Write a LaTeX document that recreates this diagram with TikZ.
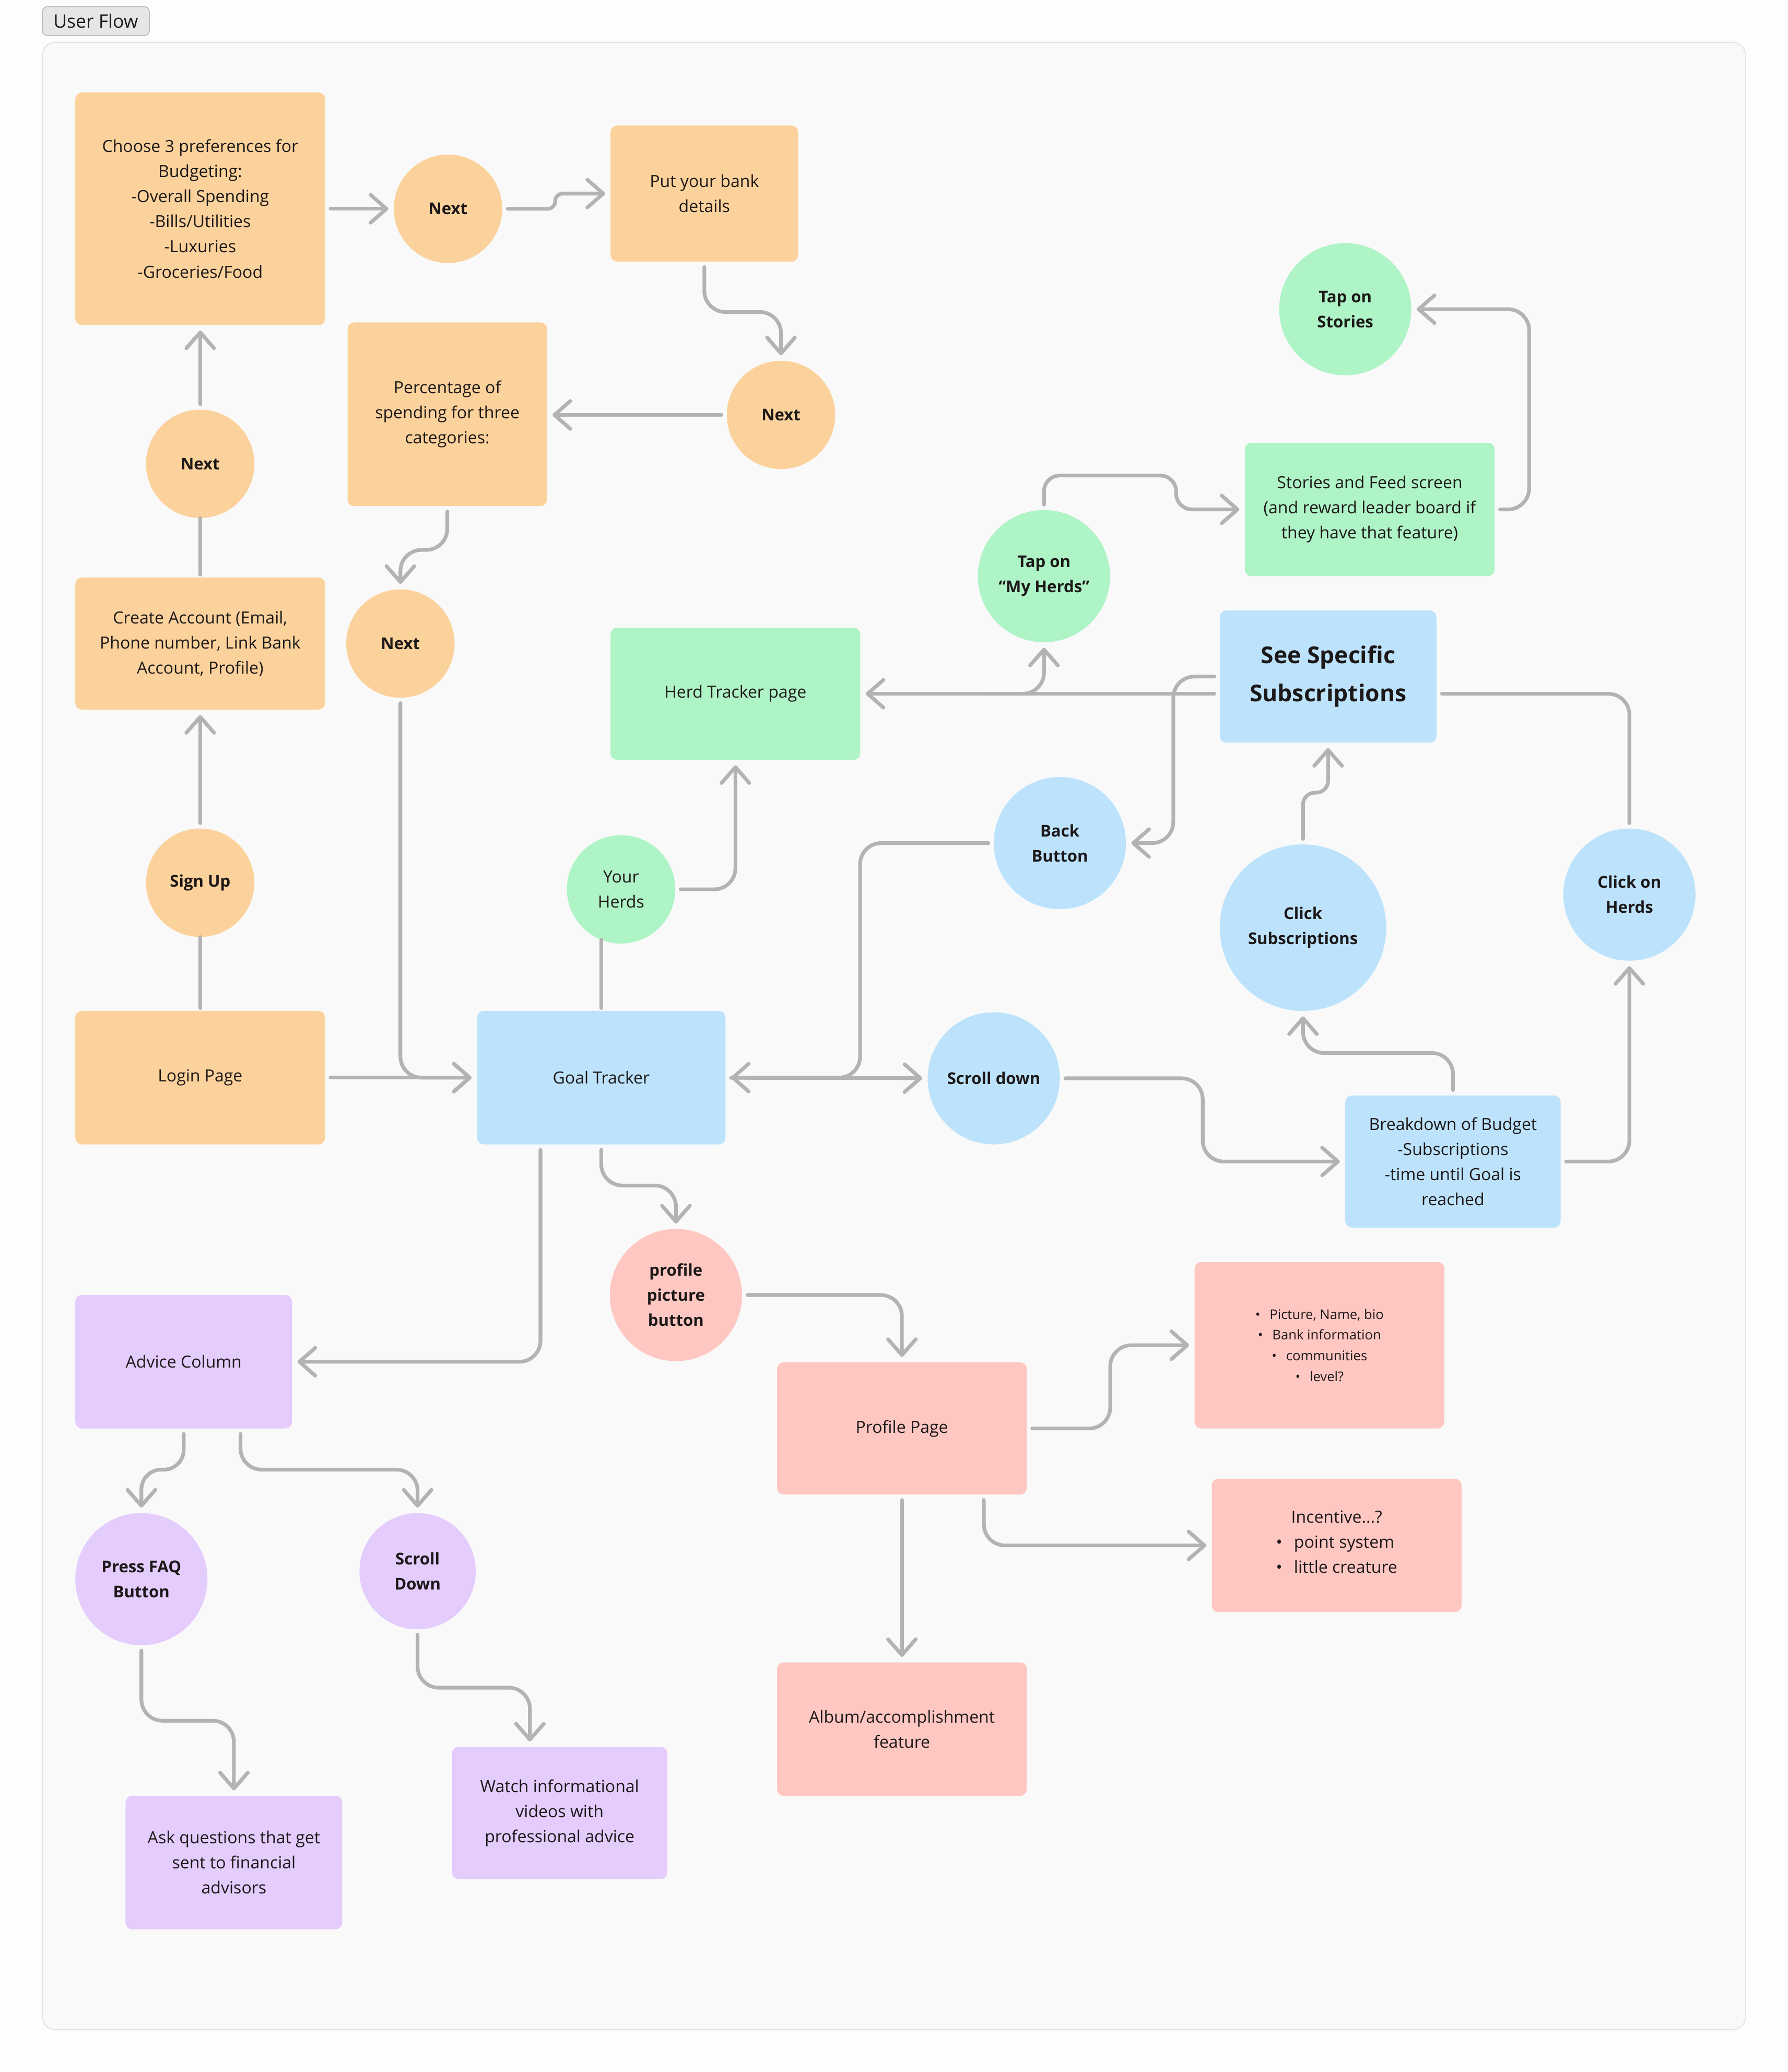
\documentclass[tikz,border=0pt]{standalone}
\usepackage{fontspec}
\setmainfont{Open Sans}
\usetikzlibrary{arrows.meta,calc}
\definecolor{cOr}{HTML}{FCD29C}
\definecolor{cBl}{HTML}{BDE3FC}
\definecolor{cGr}{HTML}{AFF4C6}
\definecolor{cPk}{HTML}{FFC7C2}
\definecolor{cPu}{HTML}{E4CCFC}
\definecolor{cLn}{HTML}{B3B3B3}
\definecolor{cTx}{HTML}{1C1818}
\definecolor{cPanel}{HTML}{F9F9F9}
\definecolor{cPanelB}{HTML}{E4E4E4}
\definecolor{cOuter}{HTML}{FDFDFD}
\definecolor{cTag}{HTML}{E6E6E6}
\definecolor{cTagB}{HTML}{BDBDBD}
\newcommand\myfr{\fontsize{18}{27}\selectfont}
\newcommand\myfb{\fontsize{17.5}{27}\selectfont\bfseries}
\newcommand\myfbig{\fontsize{25}{41}\selectfont\bfseries}
\newcommand\myfsm{\fontsize{14.4}{22.3}\selectfont}
\begin{document}
\begin{tikzpicture}[x=0.5mm,y=-0.5mm,
  box/.style={rectangle, rounded corners=2.5mm, draw=none, align=center, text=cTx, font=\myfr, inner sep=0pt},
  circ/.style={circle, draw=none, align=center, text=cTx, font=\myfb, inner sep=0pt},
  conn/.style={draw=cLn, line width=1.4mm, line cap=round, line join=round, rounded corners=8mm, shorten <=2mm, shorten >=2mm},
  arr/.style={conn, -{Straight Barb[length=6mm,width=10.5mm,round]}},
  tag/.style={rectangle, rounded corners=2mm, fill=cTag, draw=cTagB, line width=0.35mm, text=cTx, font=\fontsize{20}{24}\selectfont, minimum width=40.5mm, minimum height=11mm, inner sep=0pt}
]
\useasboundingbox (0,0) rectangle (1353,1568);
\fill[cOuter] (0,0) rectangle (1353,1568);
\draw[fill=cPanel, draw=cPanelB, line width=0.4mm, rounded corners=5mm] (32,32) rectangle (1321,1536);
\node[tag] (title) at (72.5,16) {User Flow};

% orange
\node[box,fill=cOr,minimum width=94.5mm,minimum height=88mm] (pref) at (151.5,158) {Choose 3 preferences for\\Budgeting:\\-Overall Spending\\-Bills/Utilities\\-Luxuries\\-Groceries/Food};
\node[circ,fill=cOr,minimum size=41mm] (next1) at (339,158) {Next};
\node[box,fill=cOr,minimum width=71mm,minimum height=51.5mm] (bank) at (533,146.5) {Put your bank\\details};
\node[circ,fill=cOr,minimum size=41mm] (next2) at (591,314) {Next};
\node[box,fill=cOr,minimum width=75.5mm,minimum height=69.5mm] (pct) at (338.5,313.5) {Percentage of\\spending for three\\categories:};
\node[circ,fill=cOr,minimum size=41mm] (next3) at (303,487) {Next};
\node[circ,fill=cOr,minimum size=41mm] (nextL) at (151.5,351) {Next};
\node[box,fill=cOr,minimum width=94.5mm,minimum height=50mm] (create) at (151.5,487) {Create Account (Email,\\Phone number, Link Bank\\Account, Profile)};
\node[circ,fill=cOr,minimum size=41mm] (signup) at (151.5,668) {Sign Up};
\node[box,fill=cOr,minimum width=94.5mm,minimum height=50.5mm] (login) at (151.5,815.5) {Login Page};

% blue
\node[box,fill=cBl,minimum width=94mm,minimum height=50.5mm] (goal) at (455,815.5) {Goal Tracker};
\node[circ,fill=cBl,minimum size=50mm] (scroll) at (752,816) {Scroll down};
\node[box,fill=cBl,minimum width=81.5mm,minimum height=50mm] (bd) at (1099.5,879) {Breakdown of Budget\\-Subscriptions\\-time until Goal is\\reached};
\node[circ,fill=cBl,minimum size=63mm] (csub) at (986,702) {Click\\Subscriptions};
\node[circ,fill=cBl,minimum size=50mm] (cherd) at (1233,677) {Click on\\Herds};
\node[box,fill=cBl,minimum width=82mm,minimum height=50mm,font=\myfbig] (spec) at (1005,512) {See Specific\\Subscriptions};
\node[circ,fill=cBl,minimum size=50mm] (back) at (802,638) {Back\\Button};

% green
\node[box,fill=cGr,minimum width=94.5mm,minimum height=50mm] (herd) at (556.5,525) {Herd Tracker page};
\node[circ,fill=cGr,minimum size=41mm,font=\myfr] (yh) at (470,673) {Your\\Herds};
\node[circ,fill=cGr,minimum size=50mm] (tmh) at (790,436) {Tap on\\“My Herds”};
\node[box,fill=cGr,minimum width=94.5mm,minimum height=50.5mm] (stories) at (1036.5,385.5) {Stories and Feed screen\\(and reward leader board if\\they have that feature)};
\node[circ,fill=cGr,minimum size=50mm] (tst) at (1018,234) {Tap on\\Stories};

% pink
\node[circ,fill=cPk,minimum size=50mm] (pbtn) at (511.5,980) {profile\\picture\\button};
\node[box,fill=cPk,minimum width=94.5mm,minimum height=50mm] (prof) at (682.5,1081) {Profile Page};
\node[box,fill=cPk,minimum width=94.5mm,minimum height=63mm,font=\myfsm] (info) at (998.5,1018) {•\hspace{0.7em}Picture, Name, bio\\•\hspace{0.7em}Bank information\\•\hspace{0.7em}communities\\•\hspace{0.7em}level?};
\node[box,fill=cPk,minimum width=94.5mm,minimum height=50.5mm] (inc) at (1011.5,1169.5) {Incentive...?\\\begin{tabular}[t]{@{}l@{}}•\hspace{0.7em}point system\\•\hspace{0.7em}little creature\end{tabular}};
\node[box,fill=cPk,minimum width=94.5mm,minimum height=50.5mm] (album) at (682.5,1308.5) {Album/accomplishment\\feature};

% purple
\node[box,fill=cPu,minimum width=82mm,minimum height=50.5mm] (adv) at (139,1030.5) {Advice Column};
\node[circ,fill=cPu,minimum size=50mm] (faq) at (107,1195) {Press FAQ\\Button};
\node[circ,fill=cPu,minimum size=44mm] (sd) at (316,1189) {Scroll\\Down};
\node[box,fill=cPu,minimum width=82mm,minimum height=50.5mm] (ask) at (177,1409.5) {Ask questions that get\\sent to financial\\advisors};
\node[box,fill=cPu,minimum width=81.5mm,minimum height=50mm] (watch) at (423.5,1372) {Watch informational\\videos with\\professional advice};

% connectors
\draw[arr] (pref) -- (next1);
\draw[arr,rounded corners=2.8mm] (next1.east) -- ++(40,0) |- (bank.west);
\draw[arr] (bank.south) -- ++(0,38) -| (next2.north);
\draw[arr] (next2.west) -- (next2.west -| pct.east);
\draw[arr] (pct.south) -- ++(0,33) -| (next3.north);
\draw[arr] (next3.south) |- (goal.west);
\draw[arr] (login) -- (goal);
\draw[arr] (signup) -- (create);
\draw[conn,shorten <=1mm,shorten >=0mm] (login) -- (signup);
\draw[conn,shorten <=1mm,shorten >=0mm] (create) -- (nextL);
\draw[arr] (nextL) -- (pref);
\draw[arr] (goal) -- (scroll);
\draw[arr] (back.west) -- ++(-101,0) |- (goal.east);
\draw[arr] (scroll.east) -- ++(108,0) |- (bd.west);
\draw[arr] (bd.north) -- ++(0,-32) -| (csub.south);
\draw[arr] (bd.east) -| (cherd.south);
\draw[arr,rounded corners=4.5mm] (csub.north) -- ++(0,-39) -| (spec.south);
\draw[conn] ($(spec.east)+(0,13)$) -| (cherd.north);
\draw[arr] ($(spec.west)+(0,13)$) -- (herd.east);
\coordinate (fork) at ($(tmh.south |- herd.east)+(-50,0)$);
\draw[arr,shorten <=0mm] (fork) -| (tmh.south);
\draw[arr] (spec.west) -- ++(-35,0) |- (back.east);
\draw[arr,rounded corners=6mm] (tmh.north) -- ++(0,-26) -- ++(100,0) |- (stories.west);
\draw[arr] (stories.east) -- ++(26,0) |- (tst.east);
\draw[arr] (yh.east) -| (herd.south);
\draw[conn,shorten <=1mm,shorten >=0mm] (goal.north) -- ($(goal.north |- yh.south)+(0,-3)$);
\draw[arr] (goal.south) -- ++(0,31) -| (pbtn.north);
\draw[arr] ($(goal.south)+(-46,0)$) |- (adv.east);
\draw[arr] (pbtn.east) -| (prof.north);
\draw[arr] (prof.east) -- ++(63,0) |- (info.west);
\draw[arr] ($(prof.south)+(62,0)$) |- (inc.west);
\draw[arr] (prof) -- (album);
\draw[arr,rounded corners=7.5mm] (adv.south) -- ++(0,31) -| (faq.north);
\draw[arr] ($(adv.south)+(43,0)$) -- ++(0,31) -| (sd.north);
\draw[arr] (faq.south) -- ++(0,57) -| (ask.north);
\draw[arr] (sd.south) -- ++(0,44) -| ($(watch.north)+(-22.5,0)$);
\end{tikzpicture}
\end{document}
